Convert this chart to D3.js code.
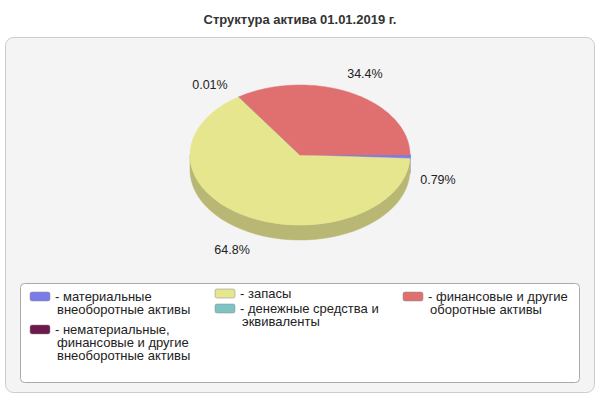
<!DOCTYPE html><html><head><meta charset="utf-8">
<script src="https://cdn.jsdelivr.net/npm/d3@7"></script>
<style>body{margin:0;background:#fff}text{font-family:"Liberation Sans",Arial,sans-serif}</style></head><body>
<svg id="c" width="600" height="400"></svg>
<script>
const title = "Структура актива 01.01.2019 г.";
const categories = [["материальные","внеоборотные активы"],["нематериальные,","финансовые и другие","внеоборотные активы"],["запасы"],["денежные средства и","эквиваленты"],["финансовые и другие","оборотные активы"]];
const values = [0.79, 0.0, 64.8, 0.01, 34.4];
const labels = ["0.79%", "", "64.8%", "0.01%", "34.4%"];
const colors = ["#7b7bea","#6b1a4b","#e6e68f","#7fc4c4","#e07070"];
const sideColors = ["#5a5ab0","#4a1034","#b8b874","#5e9696","#a85454"];

const svg = d3.select("#c");
svg.append("text").attr("x",300).attr("y",24).attr("text-anchor","middle").attr("font-size",13).attr("font-weight","bold").attr("fill","#333").text(title);
svg.append("rect").attr("x",5.5).attr("y",37.5).attr("width",589).attr("height",355).attr("rx",8).attr("fill","#f4f4f4").attr("stroke","#ccc");

const cx=300, cy=155, rx=110, ry=70, depth=15;
const pie = d3.pie().sort(null).startAngle(Math.PI/2).endAngle(Math.PI/2+2*Math.PI);
const arcs = pie(values);
const pt=(a,dy=0)=>[cx+rx*Math.sin(a), cy-ry*Math.cos(a)+dy];
const g=svg.append("g");
arcs.forEach((d,i)=>{
  for(const k of [0,2*Math.PI]){
    const lo=Math.max(d.startAngle, Math.PI/2+k), hi=Math.min(d.endAngle, 1.5*Math.PI+k);
    if(hi<=lo) continue;
    const n=40, pts=[];
    for(let j=0;j<=n;j++) pts.push(pt(lo+(hi-lo)*j/n));
    for(let j=n;j>=0;j--) pts.push(pt(lo+(hi-lo)*j/n,depth));
    g.append("path").attr("d",d3.line()(pts)+"Z").attr("fill",sideColors[i]).attr("stroke",sideColors[i]).attr("stroke-width",0.5);
  }
});
arcs.forEach((d,i)=>{
  if(d.endAngle-d.startAngle<=0) return;
  const n=Math.max(2,Math.ceil((d.endAngle-d.startAngle)*40)), pts=[[cx,cy]];
  for(let j=0;j<=n;j++) pts.push(pt(d.startAngle+(d.endAngle-d.startAngle)*j/n));
  g.append("path").attr("d",d3.line()(pts)+"Z").attr("fill",colors[i]).attr("stroke",colors[i]).attr("stroke-width",i==0?1.5:0.5);
});
arcs.forEach((d,i)=>{
  if(!labels[i]) return;
  let m=(d.startAngle+d.endAngle)/2;
  let off=i==3?-0.12:0;
  let x=cx+(rx+28)*Math.sin(m+off), y=cy-(ry+22)*Math.cos(m+off)+(Math.cos(m)<0?depth:0)+4;
  if(i==0) y+=8;
  svg.append("text").attr("x",x).attr("y",y).attr("text-anchor","middle").attr("font-size",12.5).attr("fill","#222").text(labels[i]);
});
svg.append("rect").attr("x",20.5).attr("y",283.5).attr("width",559).attr("height",99).attr("rx",4).attr("fill","#fff").attr("stroke","#aaa");
const pos=[[30,292],[30,325],[215,289],[215,304],[403,292]];
categories.forEach((lines,i)=>{
  const [x,y]=pos[i];
  svg.append("rect").attr("x",x).attr("y",y).attr("width",20).attr("height",9).attr("rx",2).attr("fill",colors[i]).attr("stroke","#888").attr("stroke-width",0.5);
  const t=svg.append("text").attr("font-size",13).attr("fill","#222");
  lines.forEach((l,j)=>t.append("tspan").attr("x",x+(j==0?25:27)).attr("y",y+9+j*13).text((j==0?"- ":"")+l));
});
</script></body></html>
